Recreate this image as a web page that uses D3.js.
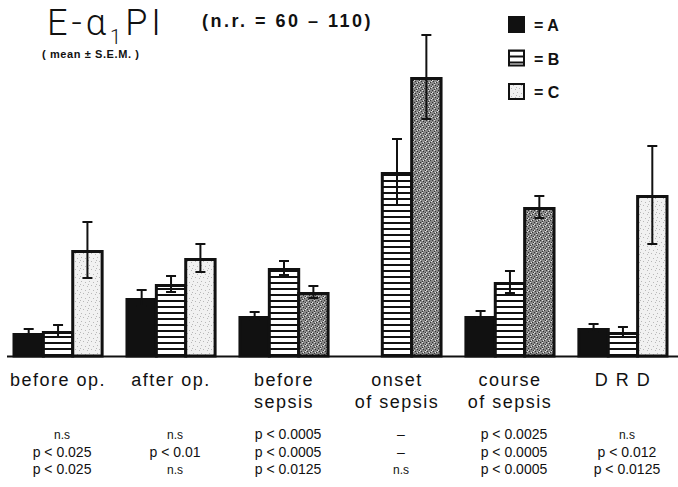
<!DOCTYPE html>
<html>
<head>
<meta charset="utf-8">
<script src="https://cdn.jsdelivr.net/npm/d3@7"></script>
<style>
  body { margin: 0; background: #fff; }
  svg { display: block; }
  text { font-family: "Liberation Sans", Arial, sans-serif; fill: #111; }
</style>
</head>
<body>
<svg id="chart"></svg>
<script>
// groups along the x axis
var groups = ["before op.", "after op.", "before\nsepsis", "onset\nof sepsis", "course\nof sepsis", "D R D"];
var series = ["A", "B", "C"];

// mean and S.E.M. per series (no A value at onset of sepsis)
var meanA = [23, 58, 40, null, 40, 28];
var semA  = [4, 8, 4, null, 5, 4];
var meanB = [25, 72, 88, 184, 74, 24];
var semB  = [6, 8, 7, 33, 11, 5];
var meanC = [106, 98, 64, 279, 149, 161];
var semC  = [28, 14, 6, 42, 11, 49];

// significance rows under the labels
var pRow1 = ["n.s", "n.s", "p < 0.0005", "\u2013", "p < 0.0025", "n.s"];
var pRow2 = ["p < 0.025", "p < 0.01", "p < 0.0005", "\u2013", "p < 0.0005", "p < 0.012"];
var pRow3 = ["p < 0.025", "n.s", "p < 0.0125", "n.s", "p < 0.0005", "p < 0.0125"];

var width = 678, height = 487, baseY = 356;

var svg = d3.select("#chart")
    .attr("width", width)
    .attr("height", height);

var defs = svg.append("defs");

// horizontal stripes for B
var stripes = defs.append("pattern")
    .attr("id", "stripes")
    .attr("patternUnits", "userSpaceOnUse")
    .attr("width", 6).attr("height", 6);
stripes.append("rect").attr("width", 6).attr("height", 6).attr("fill", "#111");
stripes.append("rect").attr("y", 2).attr("width", 6).attr("height", 4).attr("fill", "#fff");

// light stipple for C
var light = defs.append("pattern")
    .attr("id", "light")
    .attr("patternUnits", "userSpaceOnUse")
    .attr("width", 8).attr("height", 8);
light.append("rect").attr("width", 8).attr("height", 8).attr("fill", "#f1f1f1");
[[1, 1], [5, 2], [3, 5], [7, 6], [0, 4]].forEach(function (p) {
    light.append("rect").attr("x", p[0]).attr("y", p[1]).attr("width", 1).attr("height", 1).attr("fill", "#b8b8b8");
});

// dark stipple for C
var dark = defs.append("pattern")
    .attr("id", "dark")
    .attr("patternUnits", "userSpaceOnUse")
    .attr("width", 6).attr("height", 6);
dark.append("rect").attr("width", 6).attr("height", 6).attr("fill", "#888");
[[0, 0], [3, 1], [1, 3], [4, 4], [2, 5], [5, 2]].forEach(function (p) {
    dark.append("rect").attr("x", p[0]).attr("y", p[1]).attr("width", 1).attr("height", 1).attr("fill", "#333");
});
[[2, 0], [5, 3], [0, 2], [3, 4]].forEach(function (p) {
    dark.append("rect").attr("x", p[0]).attr("y", p[1]).attr("width", 1).attr("height", 1).attr("fill", "#e2e2e2");
});

var denseC = ["before\nsepsis", "onset\nof sepsis", "course\nof sepsis"];

var x = d3.scaleBand()
    .domain(groups)
    .range([14, 667])
    .paddingInner(0.22)
    .paddingOuter(0);

var xs = d3.scaleBand()
    .domain(series)
    .range([0, x.bandwidth()]);

var y = d3.scaleLinear()
    .domain([0, 320])
    .range([baseY, 36]);

var means = { A: meanA, B: meanB, C: meanC };
var sems = { A: semA, B: semB, C: semC };

var rows = [];
groups.forEach(function (g, i) {
    series.forEach(function (s) {
        if (means[s][i] == null) return;
        rows.push({ group: g, s: s, mean: means[s][i], sem: sems[s][i] });
    });
});

function fillFor(d) {
    if (d.s === "A") return "#111";
    if (d.s === "B") return "url(#stripes)";
    return denseC.indexOf(d.group) >= 0 ? "url(#dark)" : "url(#light)";
}

svg.selectAll("rect.bar")
    .data(rows)
    .enter()
    .append("rect")
    .attr("class", "bar")
    .attr("x", function (d) { return x(d.group) + xs(d.s); })
    .attr("y", function (d) { return y(d.mean) + 1.5; })
    .attr("width", xs.bandwidth())
    .attr("height", function (d) { return baseY - y(d.mean) - 1.5; })
    .attr("fill", fillFor)
    .attr("stroke", "#111")
    .attr("stroke-width", 3);

// error bars
var err = svg.selectAll("g.err")
    .data(rows)
    .enter()
    .append("g")
    .attr("class", "err")
    .attr("transform", function (d) {
        return "translate(" + (x(d.group) + xs(d.s) + xs.bandwidth() / 2) + ",0)";
    })
    .attr("stroke", "#111");

err.append("line")
    .attr("y1", function (d) { return y(d.mean + d.sem); })
    .attr("y2", function (d) { return y(d.mean - d.sem); })
    .attr("stroke-width", 2);
err.append("line")
    .attr("x1", -5).attr("x2", 5)
    .attr("y1", function (d) { return y(d.mean + d.sem); })
    .attr("y2", function (d) { return y(d.mean + d.sem); })
    .attr("stroke-width", 2);
err.append("line")
    .attr("x1", -5).attr("x2", 5)
    .attr("y1", function (d) { return y(d.mean - d.sem); })
    .attr("y2", function (d) { return y(d.mean - d.sem); })
    .attr("stroke-width", 2);

// baseline
svg.append("line")
    .attr("x1", 7).attr("x2", 678)
    .attr("y1", baseY + 0.5).attr("y2", baseY + 0.5)
    .attr("stroke", "#111")
    .attr("stroke-width", 2);

// category labels
var labels = svg.selectAll("text.cat")
    .data(groups)
    .enter()
    .append("text")
    .attr("class", "cat")
    .attr("text-anchor", "middle")
    .style("font-size", "18px")
    .style("letter-spacing", "1.5px");
labels.each(function (g) {
    var t = d3.select(this);
    g.split("\n").forEach(function (line, k) {
        t.append("tspan")
            .attr("x", x(g) + x.bandwidth() / 2)
            .attr("y", 386 + k * 22)
            .text(line);
    });
});

// p-value rows
[pRow1, pRow2, pRow3].forEach(function (row, r) {
    svg.selectAll("text.p" + r)
        .data(row)
        .enter()
        .append("text")
        .attr("class", "p" + r)
        .attr("text-anchor", "middle")
        .attr("x", function (d, i) { return x(groups[i]) + x.bandwidth() / 2 + 4; })
        .attr("y", 439 + r * 17.5)
        .style("font-size", function (d) { return d === "n.s" ? "12px" : "14px"; })
        .text(function (d) { return d; });
});

// title
var title = svg.append("text")
    .attr("x", 47).attr("y", 35)
    .style("font-family", "Roboto, sans-serif")
    .style("font-weight", 300)
    .style("font-size", "36px")
    .style("letter-spacing", "4px");
title.append("tspan").text("E-\u03b1");
title.append("tspan").attr("dy", 9).style("font-size", "20px").text("1");
title.append("tspan").attr("dy", -9).text("PI");

svg.append("text")
    .attr("x", 202).attr("y", 27)
    .style("font-size", "18px")
    .style("font-weight", "bold")
    .style("letter-spacing", "2.5px")
    .text("(n.r. = 60 \u2013 110)");

svg.append("text")
    .attr("x", 42).attr("y", 58)
    .style("font-size", "11px")
    .style("font-weight", "bold")
    .style("letter-spacing", "0.6px")
    .text("( mean \u00b1 S.E.M. )");

// legend
var legFill = ["#111", "url(#stripes)", "url(#light)"];
var leg = svg.selectAll("g.leg")
    .data(series)
    .enter()
    .append("g")
    .attr("class", "leg")
    .attr("transform", function (d, i) { return "translate(508," + (16 + i * 33.5) + ")"; });
leg.append("rect")
    .attr("x", 1).attr("y", 1)
    .attr("width", 15).attr("height", 15)
    .attr("fill", function (d, i) { return legFill[i]; })
    .attr("stroke", "#111")
    .attr("stroke-width", 2);
leg.append("text")
    .attr("x", 26).attr("y", 15)
    .style("font-size", "16px")
    .style("font-weight", "bold")
    .text(function (d) { return "= " + d; });
</script>
</body>
</html>
